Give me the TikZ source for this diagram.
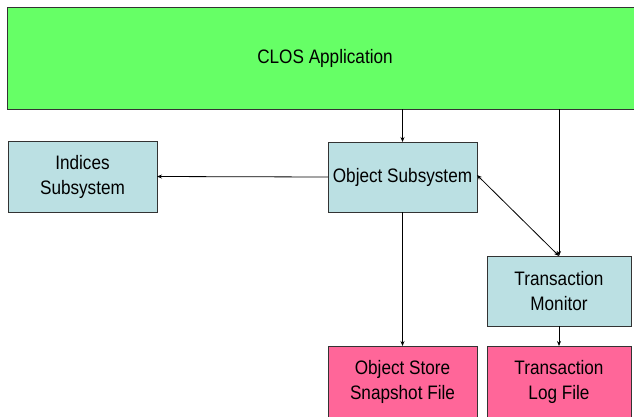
\documentclass[tikz,border=0pt]{standalone}
\usepackage{fontspec}
\setmainfont{Liberation Sans}[FakeStretch=0.88]
\usetikzlibrary{arrows.meta}
\definecolor{closgreen}{HTML}{66FF66}
\definecolor{subblue}{HTML}{BBE0E3}
\definecolor{filepink}{HTML}{FF6699}
\definecolor{edgegray}{HTML}{333333}
\tikzset{
  box/.style={draw=edgegray, line width=1pt, rectangle, outer sep=0pt, inner sep=0pt, align=center,
    font=\fontsize{19.5}{25}\selectfont},
  conn/.style={line width=0.8pt, -{Stealth[length=5pt,width=4pt]}},
  biconn/.style={line width=0.8pt, {Stealth[length=5pt,width=4pt]}-{Stealth[length=5pt,width=4pt]}}
}
\begin{document}
\begin{tikzpicture}[x=1pt,y=-1pt]
\useasboundingbox (0,0) rectangle (634,416);
\clip (0,0) rectangle (634,416);
\node[box, fill=closgreen, minimum width=636pt, minimum height=102pt] (clos) at (325,58) {CLOS Application};
\node[box, fill=subblue, minimum width=149pt, minimum height=71pt] (ind) at (82.5,176.5) {Indices\\Subsystem};
\node[box, fill=subblue, minimum width=149pt, minimum height=70pt] (obj) at (402.5,177) {Object Subsystem};
\node[box, fill=subblue, minimum width=144pt, minimum height=70pt] (tm) at (559,291) {Transaction\\Monitor};
\node[box, fill=filepink, minimum width=149pt, minimum height=72pt] (store) at (402.5,382) {Object Store\\Snapshot File};
\node[box, fill=filepink, minimum width=144pt, minimum height=72pt] (log) at (559,382) {Transaction\\Log File};
\draw[conn] (clos.south -| obj.north) -- (obj.north);
\draw[conn] (clos.south -| tm.north) -- (tm.north);
\draw[conn] (obj.west) -- (ind.east);
\draw[biconn] ([yshift=2pt]obj.east) -- (tm.north);
\draw[conn] (obj.south) -- (store.north);
\draw[conn] (tm.south) -- (log.north);
\end{tikzpicture}
\end{document}
